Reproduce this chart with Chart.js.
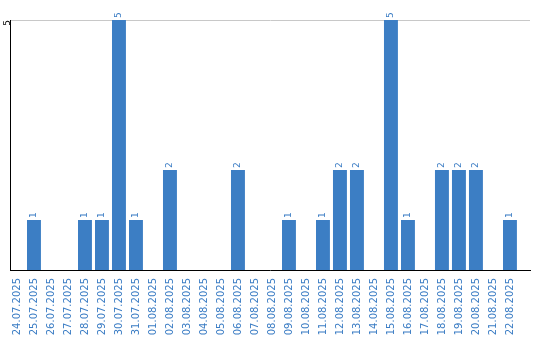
<!DOCTYPE html>
<html>
<head>
  <meta charset="utf-8">
  <title>Bars by day</title>
  <script src="https://cdn.jsdelivr.net/npm/chart.js"></script>
  <style>
    html, body {
      margin: 0;
      padding: 0;
      background: #fff;
    }
    #wrap {
      width: 540px;
      height: 340px;
    }
  </style>
</head>
<body>
  <div id="wrap"><canvas id="myChart"></canvas></div>

  <script>
    const days = [
      '24.07.2025', '25.07.2025', '26.07.2025', '27.07.2025', '28.07.2025',
      '29.07.2025', '30.07.2025', '31.07.2025', '01.08.2025', '02.08.2025',
      '03.08.2025', '04.08.2025', '05.08.2025', '06.08.2025', '07.08.2025',
      '08.08.2025', '09.08.2025', '10.08.2025', '11.08.2025', '12.08.2025',
      '13.08.2025', '14.08.2025', '15.08.2025', '16.08.2025', '17.08.2025',
      '18.08.2025', '19.08.2025', '20.08.2025', '21.08.2025', '22.08.2025'
    ];
    const counts = [0, 1, 0, 0, 1, 1, 5, 1, 0, 2, 0, 0, 0, 2, 0, 0, 1, 0, 1, 2, 2, 0, 5, 1, 0, 2, 2, 2, 0, 1];
    const yTicks = [5];

    const blue = '#3c7ec4';
    const textBlue = '#3a7cc4';

    // numbers on top of the bars, turned on their side
    const valueLabels = {
      id: 'valueLabels',
      afterDatasetsDraw(chart) {
        const ctx = chart.ctx;
        const meta = chart.getDatasetMeta(0);
        ctx.save();
        ctx.fillStyle = textBlue;
        ctx.font = '9px "DejaVu Sans"';
        ctx.textAlign = 'left';
        ctx.textBaseline = 'middle';
        meta.data.forEach((bar, i) => {
          if (!counts[i]) return;
          ctx.save();
          ctx.translate(bar.x, bar.y - 2);
          ctx.rotate(-Math.PI / 2);
          ctx.fillText(String(counts[i]), 0, 0);
          ctx.restore();
        });
        ctx.restore();
      }
    };

    const ctx = document.getElementById('myChart').getContext('2d');
    const chart = new Chart(ctx, {
      type: 'bar',
      data: {
        datasets: [{
          data: counts.map((v, i) => ({ x: i, y: v })),
          backgroundColor: blue,
          borderWidth: 0,
          barPercentage: 0.82,
          categoryPercentage: 1
        }]
      },
      options: {
        responsive: true,
        maintainAspectRatio: false,
        animation: false,
        layout: {
          padding: { top: 20, right: 10, left: 0, bottom: 0 }
        },
        plugins: {
          legend: { display: false },
          tooltip: { enabled: false }
        },
        scales: {
          x: {
            type: 'linear',
            offset: false,
            min: -0.41,
            max: 30.18,
            afterBuildTicks: (scale) => {
              scale.ticks = days.map((d, i) => ({ value: i }));
            },
            afterFit: (scale) => { scale.height = 70; },
            grid: { display: false, drawTicks: false, offset: false },
            border: { display: true, color: '#000', width: 1 },
            ticks: {
              autoSkip: false,
              minRotation: 90,
              maxRotation: 90,
              padding: 8,
              color: textBlue,
              font: { family: 'DejaVu Sans', size: 10 },
              callback: (v) => days[v] || ''
            }
          },
          y: {
            min: 0,
            max: 5,
            afterBuildTicks: (scale) => {
              scale.ticks = yTicks.map(v => ({ value: v }));
            },
            afterFit: (scale) => { scale.width = 10; },
            grid: { color: '#c8c8c8', drawTicks: false },
            border: { display: true, color: '#000', width: 1 },
            ticks: {
              minRotation: 90,
              maxRotation: 90,
              padding: 2,
              color: '#000',
              font: { family: 'DejaVu Sans', size: 9 }
            }
          }
        }
      },
      plugins: [valueLabels]
    });
  </script>
</body>
</html>
